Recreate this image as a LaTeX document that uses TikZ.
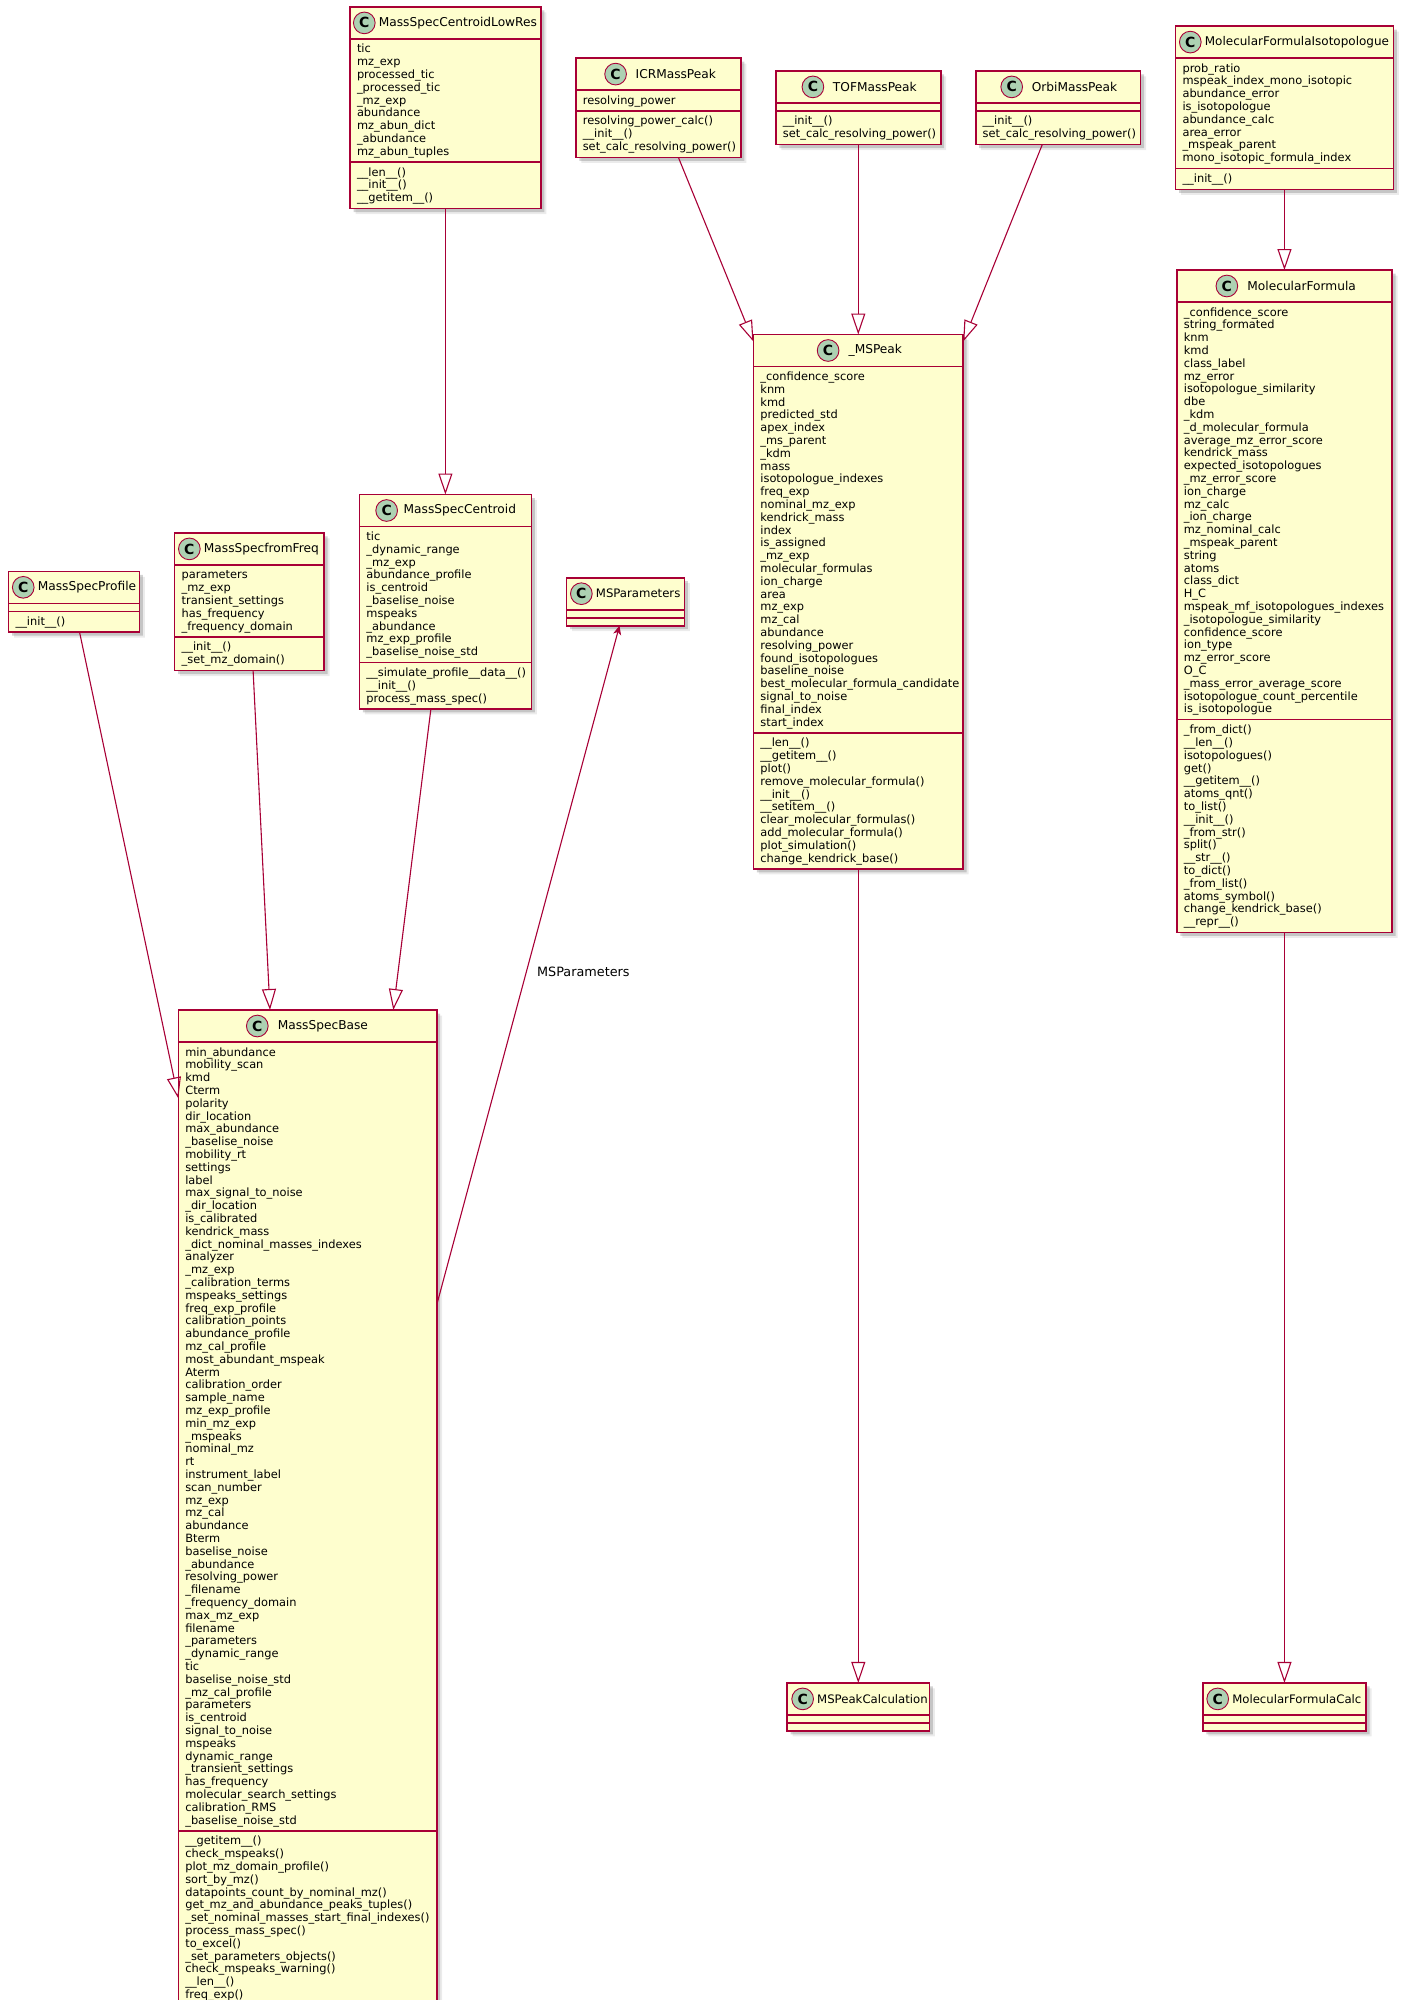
\documentclass[tikz,border=0pt]{standalone}
\usepackage{fontspec}
\setmainfont{DejaVu Sans}
\usepackage{xcolor}
\usetikzlibrary{shapes.multipart,arrows.meta,positioning,shadows}
\definecolor{umlred}{HTML}{A80036}
\definecolor{umlfill}{HTML}{FEFECE}
\definecolor{umlspot}{HTML}{ADD1B2}
\hyphenpenalty=10000
\exhyphenpenalty=10000
\newcommand{\rows}[1]{\rule{0pt}{10pt}#1\rule[-2.8pt]{0pt}{0pt}}
\newcommand{\head}{\rule{0pt}{24pt}}

\begin{document}
\begin{tikzpicture}[
    x=1pt, y=-1pt,
    classbox/.style={rectangle split, rectangle split parts=3, draw=umlred, fill=umlfill, line width=1.6pt,
        rectangle split empty part height=0pt, rectangle split empty part depth=0pt,
        inner xsep=7pt, inner ysep=3.2pt, outer sep=0pt, align=left,
        font=\fontsize{11.4}{12.8}\selectfont,
        drop shadow={shadow xshift=5.5pt, shadow yshift=-5.5pt, opacity=0.16},
        drop shadow={shadow xshift=3.5pt, shadow yshift=-3.5pt, opacity=0.35}},
    spot/.style={circle, draw=umlred, fill=umlspot, line width=0.9pt, minimum size=21.7pt, inner sep=0pt, outer sep=0pt,
        font=\fontsize{14}{14}\selectfont\bfseries},
    classname/.style={inner sep=0pt, font=\fontsize{12.2}{14}\selectfont},
    tightname/.style={inner sep=0pt, font=\fontsize{11.7}{14}\selectfont},
    inherit/.style={draw=umlred, line width=1.1pt, -{Triangle[open, length=21pt, width=14pt]}},
    assoc/.style={draw=umlred, line width=1.1pt, -{Stealth[length=9pt, width=8pt, inset=2.5pt]}},
    edgelabel/.style={font=\fontsize{12.8}{14}\selectfont}
]
\useasboundingbox (0,0) rectangle (1406,2000);
\clip (0,0) rectangle (1406,2000);

% Top rank
\node[classbox, text width=176.8pt] (lowRes) at (445.4,107.7) {\head
    \nodepart{two}\rows{tic\\mz\_exp\\processed\_tic\\\_processed\_tic\\\_mz\_exp\\abundance\\mz\_abun\_dict\\\_abundance\\mz\_abun\_tuples}
    \nodepart{three}\rows{\_\_len\_\_()\\\_\_init\_\_()\\\_\_getitem\_\_()}};
\node[classbox, text width=151.1pt, right=35pt of lowRes] (icrPeak) {\head
    \nodepart{two}\rows{resolving\_power}
    \nodepart{three}\rows{resolving\_power\_calc()\\\_\_init\_\_()\\set\_calc\_resolving\_power()}};
\node[classbox, text width=150.8pt, right=35pt of icrPeak] (tofPeak) {\head
    \nodepart{two}
    \nodepart{three}\rows{\_\_init\_\_()\\set\_calc\_resolving\_power()}};
\node[classbox, text width=150.8pt, right=35pt of tofPeak] (orbiPeak) {\head
    \nodepart{two}
    \nodepart{three}\rows{\_\_init\_\_()\\set\_calc\_resolving\_power()}};
\node[classbox, text width=203.9pt, right=35pt of orbiPeak] (isoFormula) {\head
    \nodepart{two}\rows{prob\_ratio\\mspeak\_index\_mono\_isotopic\\abundance\_error\\is\_isotopologue\\abundance\_calc\\area\_error\\\_mspeak\_parent\\mono\_isotopic\_formula\_index}
    \nodepart{three}\rows{\_\_init\_\_()}};

% Second rank
\node[classbox, text width=157.9pt, below=286pt of lowRes] (centroid) {\head
    \nodepart{two}\rows{tic\\\_dynamic\_range\\\_mz\_exp\\abundance\_profile\\is\_centroid\\\_baselise\_noise\\mspeaks\\\_abundance\\mz\_exp\_profile\\\_baselise\_noise\_std}
    \nodepart{three}\rows{\_\_simulate\_profile\_\_data\_\_()\\\_\_init\_\_()\\process\_mass\_spec()}};
\node[classbox, text width=135.5pt, left=35.3pt of centroid] (fromFreq) {\head
    \nodepart{two}\rows{parameters\\\_mz\_exp\\transient\_settings\\has\_frequency\\\_frequency\_domain}
    \nodepart{three}\rows{\_\_init\_\_()\\\_set\_mz\_domain()}};
\node[classbox, text width=116.8pt, left=35.3pt of fromFreq] (msProfile) {\head
    \nodepart{two}
    \nodepart{three}\rows{\_\_init\_\_()}};
\node[classbox, text width=103.9pt, right=35.2pt of centroid] (msParams) {\head
    \nodepart{two}
    \nodepart{three}};

% Lower classes
\node[classbox, text width=244.4pt, anchor=north] (msBase) at (307.5,1010) {\head
    \nodepart{two}\rows{min\_abundance\\mobility\_scan\\kmd\\Cterm\\polarity\\dir\_location\\max\_abundance\\\_baselise\_noise\\mobility\_rt\\settings\\label\\max\_signal\_to\_noise\\\_dir\_location\\is\_calibrated\\kendrick\_mass\\\_dict\_nominal\_masses\_indexes\\analyzer\\\_mz\_exp\\\_calibration\_terms\\mspeaks\_settings\\freq\_exp\_profile\\calibration\_points\\abundance\_profile\\mz\_cal\_profile\\most\_abundant\_mspeak\\Aterm\\calibration\_order\\sample\_name\\mz\_exp\_profile\\min\_mz\_exp\\\_mspeaks\\nominal\_mz\\rt\\instrument\_label\\scan\_number\\mz\_exp\\mz\_cal\\abundance\\Bterm\\baselise\_noise\\\_abundance\\resolving\_power\\\_filename\\\_frequency\_domain\\max\_mz\_exp\\filename\\\_parameters\\\_dynamic\_range\\tic\\baselise\_noise\_std\\\_mz\_cal\_profile\\parameters\\is\_centroid\\signal\_to\_noise\\mspeaks\\dynamic\_range\\\_transient\_settings\\has\_frequency\\molecular\_search\_settings\\calibration\_RMS\\\_baselise\_noise\_std}
    \nodepart{three}\rows{\_\_getitem\_\_()\\check\_mspeaks()\\plot\_mz\_domain\_profile()\\sort\_by\_mz()\\datapoints\_count\_by\_nominal\_mz()\\get\_mz\_and\_abundance\_peaks\_tuples()\\\_set\_nominal\_masses\_start\_final\_indexes()\\process\_mass\_spec()\\to\_excel()\\\_set\_parameters\_objects()\\check\_mspeaks\_warning()\\\_\_len\_\_()\\freq\_exp()\rule[-40pt]{0pt}{0pt}}};
\node[classbox, text width=195.8pt, below=190pt of tofPeak] (msPeak) {\head
    \nodepart{two}\rows{\_confidence\_score\\knm\\kmd\\predicted\_std\\apex\_index\\\_ms\_parent\\\_kdm\\mass\\isotopologue\_indexes\\freq\_exp\\nominal\_mz\_exp\\kendrick\_mass\\index\\is\_assigned\\\_mz\_exp\\molecular\_formulas\\ion\_charge\\area\\mz\_exp\\mz\_cal\\abundance\\resolving\_power\\found\_isotopologues\\baseline\_noise\\best\_molecular\_formula\_candidate\\signal\_to\_noise\\final\_index\\start\_index}
    \nodepart{three}\rows{\_\_len\_\_()\\\_\_getitem\_\_()\\plot()\\remove\_molecular\_formula()\\\_\_init\_\_()\\\_\_setitem\_\_()\\clear\_molecular\_formulas()\\add\_molecular\_formula()\\plot\_simulation()\\change\_kendrick\_base()}};
\node[classbox, text width=201.2pt, below=80.7pt of isoFormula] (molFormula) {\head
    \nodepart{two}\rows{\_confidence\_score\\string\_formated\\knm\\kmd\\class\_label\\mz\_error\\isotopologue\_similarity\\dbe\\\_kdm\\\_d\_molecular\_formula\\average\_mz\_error\_score\\kendrick\_mass\\expected\_isotopologues\\\_mz\_error\_score\\ion\_charge\\mz\_calc\\\_ion\_charge\\mz\_nominal\_calc\\\_mspeak\_parent\\string\\atoms\\class\_dict\\H\_C\\mspeak\_mf\_isotopologues\_indexes\\\_isotopologue\_similarity\\confidence\_score\\ion\_type\\mz\_error\_score\\O\_C\\\_mass\_error\_average\_score\\isotopologue\_count\_percentile\\is\_isotopologue}
    \nodepart{three}\rows{\_from\_dict()\\\_\_len\_\_()\\isotopologues()\\get()\\\_\_getitem\_\_()\\atoms\_qnt()\\to\_list()\\\_\_init\_\_()\\\_from\_str()\\split()\\\_\_str\_\_()\\to\_dict()\\\_from\_list()\\atoms\_symbol()\\change\_kendrick\_base()\\\_\_repr\_\_()}};
\node[classbox, text width=128.3pt, below=814pt of msPeak] (peakCalc) {\head
    \nodepart{two}
    \nodepart{three}};
\node[classbox, text width=149.1pt, anchor=north] (formulaCalc) at (peakCalc.north -| molFormula) {\head
    \nodepart{two}
    \nodepart{three}};

% Spots and class names
\node[spot] (lowResC) at ([xshift=14.3pt, yshift=-16pt]lowRes.north west) {C};
\node[classname, right=3.5pt of lowResC] (lowResName) {MassSpecCentroidLowRes};
\node[spot] (icrPeakC) at ([xshift=39.8pt, yshift=-16pt]icrPeak.north west) {C};
\node[classname, right=9pt of icrPeakC] (icrPeakName) {ICRMassPeak};
\node[spot] (tofPeakC) at ([xshift=37pt, yshift=-16pt]tofPeak.north west) {C};
\node[classname, right=9pt of tofPeakC] (tofPeakName) {TOFMassPeak};
\node[spot] (orbiPeakC) at ([xshift=36pt, yshift=-16pt]orbiPeak.north west) {C};
\node[classname, right=9pt of orbiPeakC] (orbiPeakName) {OrbiMassPeak};
\node[spot] (isoFormulaC) at ([xshift=14.8pt, yshift=-16pt]isoFormula.north west) {C};
\node[tightname, font=\fontsize{12}{14}\selectfont, right=3.5pt of isoFormulaC] (isoFormulaName) {MolecularFormulaIsotopologue};
\node[spot] (centroidC) at ([xshift=27.2pt, yshift=-16pt]centroid.north west) {C};
\node[classname, right=6pt of centroidC] (centroidName) {MassSpecCentroid};
\node[spot] (fromFreqC) at ([xshift=14.7pt, yshift=-16pt]fromFreq.north west) {C};
\node[classname, right=3.5pt of fromFreqC] (fromFreqName) {MassSpecfromFreq};
\node[spot] (msProfileC) at ([xshift=14.7pt, yshift=-16pt]msProfile.north west) {C};
\node[classname, right=3.5pt of msProfileC] (msProfileName) {MassSpecProfile};
\node[spot] (msParamsC) at ([xshift=14.8pt, yshift=-16pt]msParams.north west) {C};
\node[tightname, right=3.5pt of msParamsC] (msParamsName) {MSParameters};
\node[spot] (msBaseC) at ([xshift=79pt, yshift=-16pt]msBase.north west) {C};
\node[classname, right=9.5pt of msBaseC] (msBaseName) {MassSpecBase};
\node[spot] (msPeakC) at ([xshift=74.7pt, yshift=-16pt]msPeak.north west) {C};
\node[classname, right=9.5pt of msPeakC] (msPeakName) {\_MSPeak};
\node[spot] (molFormulaC) at ([xshift=50pt, yshift=-16pt]molFormula.north west) {C};
\node[classname, right=9.5pt of molFormulaC] (molFormulaName) {MolecularFormula};
\node[spot] (peakCalcC) at ([xshift=15.5pt, yshift=-16pt]peakCalc.north west) {C};
\node[tightname, right=3.5pt of peakCalcC] (peakCalcName) {MSPeakCalculation};
\node[spot] (formulaCalcC) at ([xshift=14.8pt, yshift=-16pt]formulaCalc.north west) {C};
\node[tightname, right=3.5pt of formulaCalcC] (formulaCalcName) {MolecularFormulaCalc};

% Inheritance
\draw[inherit] (lowRes.south) -- (centroid.north);
\draw[inherit] ([xshift=20pt]icrPeak.south) -- ([yshift=-7pt]msPeak.north west);
\draw[inherit] (tofPeak.south) -- (msPeak.north);
\draw[inherit] ([xshift=-15.8pt]orbiPeak.south) -- ([yshift=-7pt]msPeak.north east);
\draw[inherit] (isoFormula.south) -- (molFormula.north);
\draw[inherit] (msPeak.south) -- (peakCalc.north);
\draw[inherit] (molFormula.south) -- (formulaCalc.north);
\draw[inherit] ([xshift=5.6pt]msProfile.south) -- ([yshift=-88.3pt]msBase.north west);
\draw[inherit] ([xshift=3.7pt]fromFreq.south) -- ([xshift=91.7pt]msBase.north west);
\draw[inherit] ([xshift=-14.5pt]centroid.south) -- ([xshift=-43.4pt]msBase.north east);

% Association
\draw[assoc] ([yshift=-295pt]msBase.north east) -- node[edgelabel, pos=0.49, right=7pt] (paramsLabel) {MSParameters} ([xshift=-6pt]msParams.south);
\end{tikzpicture}
\end{document}
